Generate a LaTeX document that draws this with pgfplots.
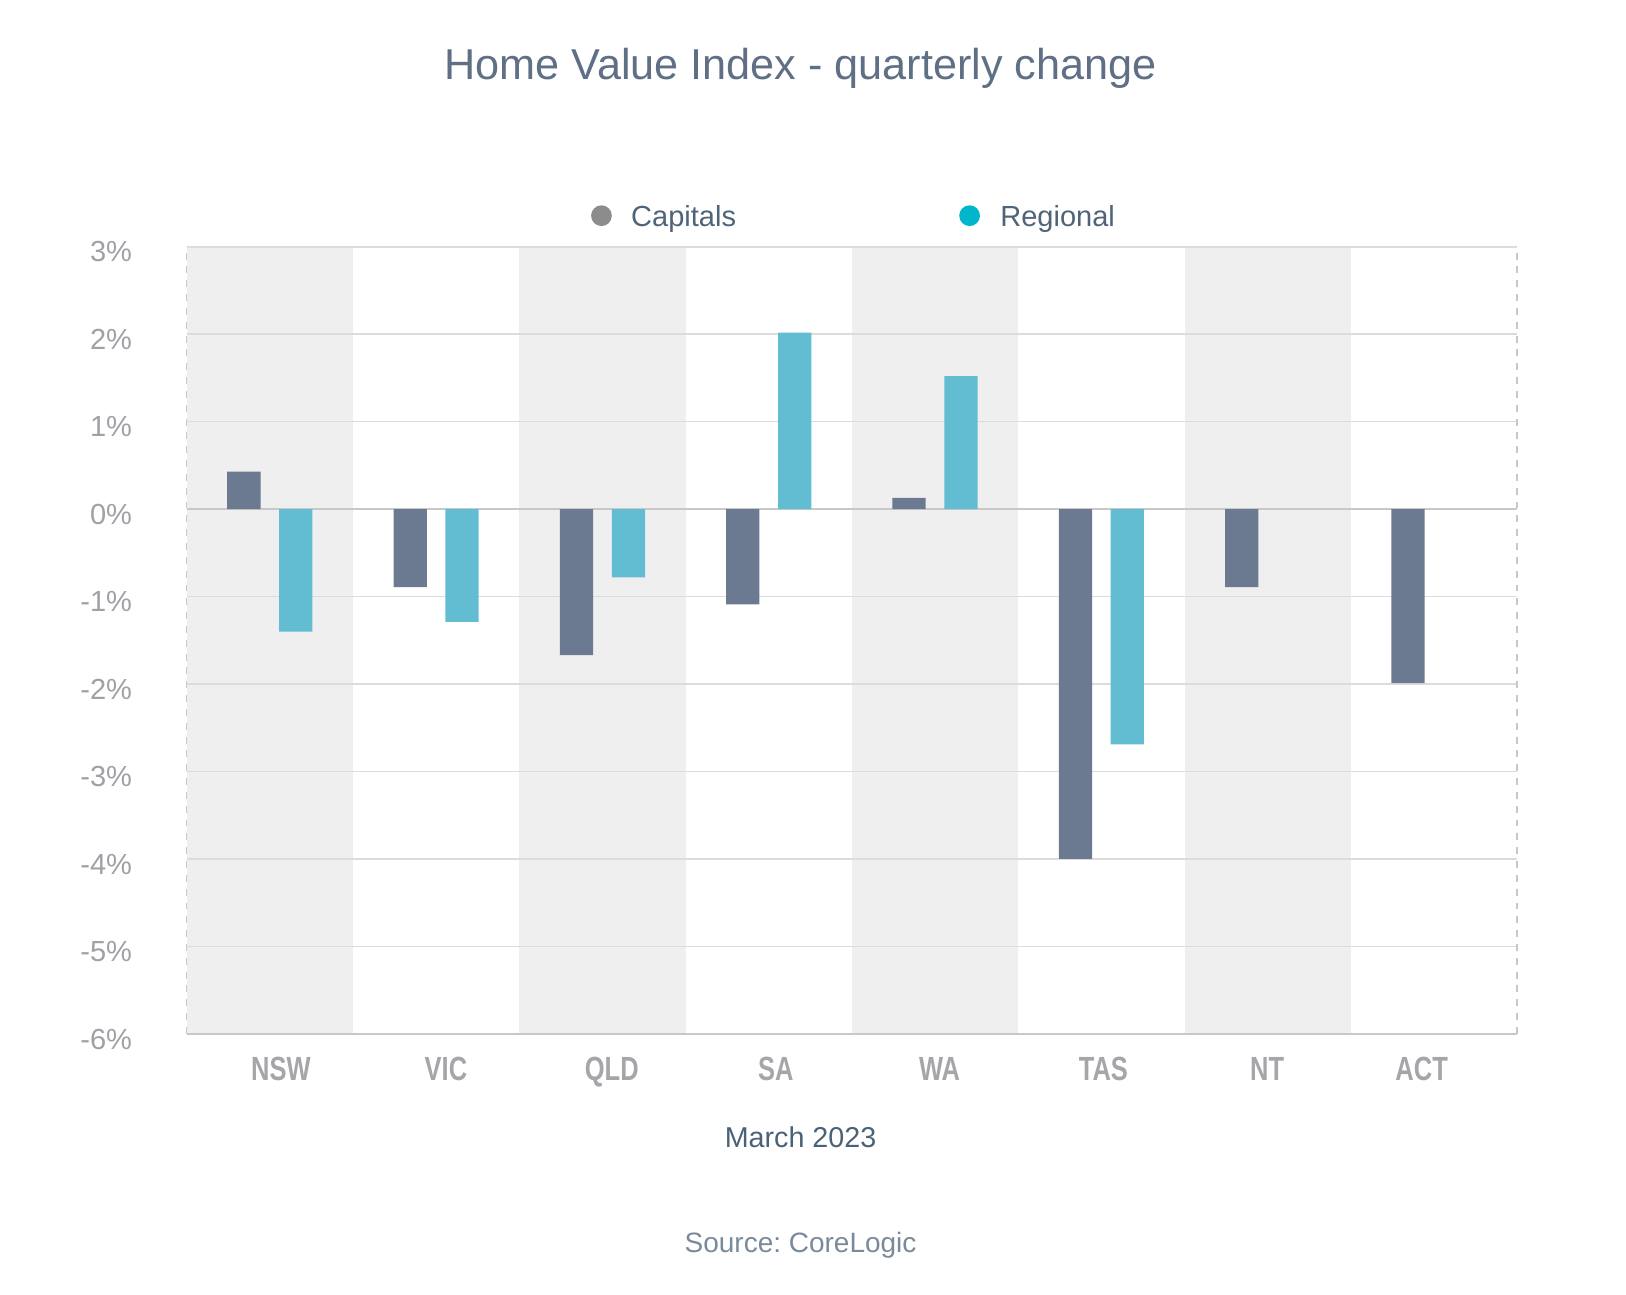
\documentclass[border=0pt]{standalone}
\usepackage{fontspec}
\setmainfont{Liberation Sans}
\newfontfamily\condfont[FakeStretch=0.76]{Liberation Sans Bold}
\usepackage{pgfplots}
\pgfplotsset{compat=1.18}
\frenchspacing
\definecolor{titlec}{HTML}{5F6F85}
\definecolor{legc}{HTML}{4F6479}
\definecolor{marc}{HTML}{4A6278}
\definecolor{srcc}{HTML}{7B8A9B}
\definecolor{capc}{HTML}{6B7A90}
\definecolor{regc}{HTML}{62BDD3}
\definecolor{capleg}{HTML}{8C8C8C}
\definecolor{regleg}{HTML}{00B5CC}
\definecolor{bandc}{HTML}{EFEFEF}
\definecolor{gridc}{HTML}{DCDCDC}
\definecolor{bordc}{HTML}{C8C8C8}
\definecolor{zeroc}{HTML}{C8C8C8}
\definecolor{ytc}{HTML}{A0A0A6}
\definecolor{xtc}{HTML}{A5A5AA}
\begin{document}
\begin{tikzpicture}
\path[use as bounding box] (0pt,0pt) rectangle (470.4pt,374.4pt);
\begin{axis}[
  at={(54pt,75.3pt)}, anchor=south west,
  scale only axis, width=384.9pt, height=227.7pt,
  xmin=-0.5, xmax=7.5, ymin=-6, ymax=3,
  xtick={0.067,1.059,2.056,3.042,4.027,5.012,5.997,6.926},
  xticklabels={NSW,VIC,QLD,SA,WA,TAS,NT,ACT},
  ytick={-6,-5,...,3},
  yticklabels={-6\%,-5\%,-4\%,-3\%,-2\%,-1\%,0\%,1\%,2\%,3\%},
  major tick length=0pt,
  axis line style={draw=none},
  clip=false,
  yticklabel style={font=\fontsize{8.4}{10}\selectfont, text=ytc, anchor=east, inner sep=0pt, xshift=-15.6pt, yshift=-1.5pt},
  xticklabel style={font=\fontsize{9.7}{11}\selectfont\condfont, text=xtc, anchor=base, inner sep=0pt, yshift=-13.5pt},
]
\fill[bandc] (axis cs:-0.5,-6) rectangle (axis cs:0.5,3);
\fill[bandc] (axis cs:1.5,-6) rectangle (axis cs:2.5,3);
\fill[bandc] (axis cs:3.5,-6) rectangle (axis cs:4.5,3);
\fill[bandc] (axis cs:5.5,-6) rectangle (axis cs:6.5,3);
\foreach \g in {-5,-4,-3,-2,-1,1,2,3} {
  \edef\tmp{\noexpand\draw[gridc, line width=0.45pt] (axis cs:-0.5,\g) -- (axis cs:7.5,\g);}\tmp
}
\draw[bordc, line width=0.4pt, dash pattern=on 2pt off 2pt] (axis cs:-0.5,-6) -- (axis cs:-0.5,3);
\draw[bordc, line width=0.4pt, dash pattern=on 2pt off 2pt] (axis cs:7.5,-6) -- (axis cs:7.5,3);
\draw[zeroc, line width=0.6pt] (axis cs:-0.5,0) -- (axis cs:7.5,0);
\draw[zeroc, line width=0.5pt] (axis cs:-0.5,-6) -- (axis cs:7.5,-6);
\addplot[ybar, bar width=0.2, bar shift=-0.156, fill=capc, draw=none] coordinates {
  (0,0.43) (1,-0.89) (2,-1.67) (3,-1.09) (4,0.13) (5,-4.00) (6,-0.89) (7,-1.99)};
\addplot[ybar, bar width=0.2, bar shift=0.156, fill=regc, draw=none] coordinates {
  (0,-1.40) (1,-1.29) (2,-0.78) (3,2.02) (4,1.52) (5,-2.69)};
\end{axis}
\node[anchor=base, text=titlec, font=\fontsize{12.5}{14}\selectfont, inner sep=0pt] at (231.6pt,351.3pt) {Home Value Index - quarterly change};
\fill[capleg] (174pt,312pt) circle (3pt);
\node[anchor=base west, text=legc, font=\fontsize{8.4}{10}\selectfont, inner sep=0pt] at (182.4pt,309pt) {Capitals};
\fill[regleg] (280.5pt,312pt) circle (3pt);
\node[anchor=base west, text=legc, font=\fontsize{8.4}{10}\selectfont, inner sep=0pt] at (289.2pt,309pt) {Regional};
\node[anchor=base, text=marc, font=\fontsize{8.3}{10}\selectfont, inner sep=0pt] at (231.6pt,42.3pt) {March 2023};
\node[anchor=base, text=srcc, font=\fontsize{8.1}{10}\selectfont, inner sep=0pt] at (231.6pt,12pt) {Source: CoreLogic};
\end{tikzpicture}
\end{document}
